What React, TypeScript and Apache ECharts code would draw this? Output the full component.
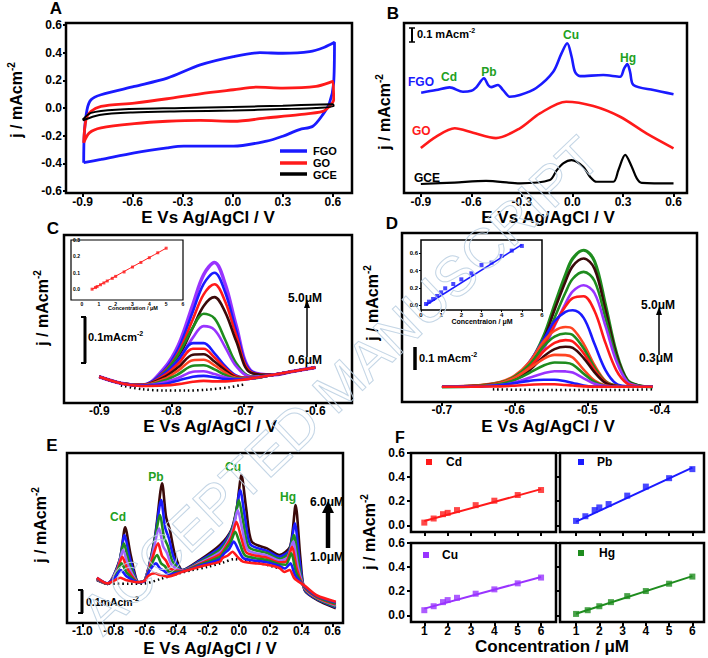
import React, { useEffect, useRef } from "react";
import * as echarts from "echarts";

const FONT = '"Liberation Sans", Arial, Helvetica, sans-serif';
const BLUE = "#1a1aff";
const RED = "#ff1a1a";
const GREEN = "#1e8c1e";
const PURPLE = "#9933ff";
const LILAC = "#a066ff";
const BROWN = "#3b0a0a";
const ORANGE = "#ff4422";
const LABEL_GREEN = "#22a022";

// ---------- tick label values ----------
const cvXTicks = [-0.9, -0.6, -0.3, 0, 0.3, 0.6];
const cvYTicks = [-0.6, -0.4, -0.2, 0, 0.2, 0.4, 0.6];
const cTicks = [-0.9, -0.8, -0.7, -0.6];
const dTicks = [-0.7, -0.6, -0.5, -0.4];
const eTicks = [-1.0, -0.8, -0.6, -0.4, -0.2, 0, 0.2, 0.4, 0.6];
const fXTicks = [1, 2, 3, 4, 5, 6];
const fYTicks = [0, 0.2, 0.4, 0.6];
const insetXTicks = [0, 1, 2, 3, 4, 5, 6];
const ciYTicks = [0, 0.1, 0.2, 0.3];
const diYTicks = [0, 0.2, 0.4, 0.6];

// ---------- Panel A: CV loops [E (V), j (mA cm-2)] ----------
const cvFGO = [
  [-0.894, -0.396], [-0.89, -0.18], [-0.874, -0.012], [-0.85, 0.06], [-0.79, 0.096], [-0.59, 0.156],
  [-0.393, 0.216], [-0.195, 0.312], [0.004, 0.372], [0.163, 0.4], [0.3, 0.396], [0.461, 0.408],
  [0.55, 0.44], [0.61, 0.475], [0.605, 0.18], [0.58, 0.036], [0.54, -0.048], [0.48, -0.132],
  [0.4, -0.156], [0.3, -0.204], [0.203, -0.24], [0.004, -0.276], [-0.095, -0.276], [-0.294, -0.276],
  [-0.393, -0.288], [-0.59, -0.324], [-0.79, -0.372], [-0.894, -0.396],
];
const cvGO = [
  [-0.894, -0.252], [-0.88, -0.084], [-0.85, -0.024], [-0.79, 0.012], [-0.59, 0.036], [-0.393, 0.067],
  [-0.195, 0.103], [0.004, 0.132], [0.143, 0.151], [0.3, 0.144], [0.5, 0.156], [0.6, 0.192],
  [0.605, 0.06], [0.58, 0.012], [0.54, -0.024], [0.4, -0.048], [0.203, -0.072], [0.004, -0.096],
  [-0.195, -0.089], [-0.393, -0.096], [-0.59, -0.113], [-0.79, -0.144], [-0.86, -0.18], [-0.894, -0.252],
];
const cvGCE = [
  [-0.9, -0.085], [-0.85, -0.035], [-0.7, -0.012], [-0.3, 0.0], [0.0, 0.008], [0.3, 0.016], [0.6, 0.028],
  [0.605, 0.015], [0.5, 0.0], [0.3, -0.008], [0.0, -0.018], [-0.3, -0.024], [-0.6, -0.032], [-0.8, -0.05], [-0.9, -0.09],
];

// ---------- Panel B: stripping curves, offset (mA cm-2) ----------
const bFGO = [
  [-0.898, 0.767], [-0.809, 0.787], [-0.729, 0.808], [-0.65, 0.774], [-0.6, 0.782], [-0.571, 0.808],
  [-0.525, 0.877], [-0.501, 0.826], [-0.483, 0.81], [-0.442, 0.826], [-0.412, 0.787], [-0.372, 0.736],
  [-0.312, 0.749], [-0.215, 0.803], [-0.114, 0.927], [-0.065, 1.068], [-0.031, 1.145], [-0.005, 1.042],
  [0.015, 0.927], [0.045, 0.894], [0.183, 0.902], [0.283, 0.889], [0.307, 0.953], [0.326, 0.986],
  [0.342, 0.927], [0.362, 0.826], [0.481, 0.787], [0.6, 0.755],
];
const bGO = [
  [-0.9, 0.344], [-0.811, 0.43], [-0.699, 0.495], [-0.59, 0.461], [-0.454, 0.42], [-0.312, 0.495],
  [-0.193, 0.609], [-0.037, 0.698], [0.124, 0.665], [0.283, 0.583], [0.439, 0.456], [0.6, 0.342],
];
const bGCE = [
  [-0.9, 0.069], [-0.7, 0.08], [-0.513, 0.092], [-0.312, 0.074], [-0.134, 0.099], [-0.095, 0.171],
  [-0.055, 0.227], [-0.005, 0.252], [0.064, 0.201], [0.104, 0.125], [0.143, 0.086], [0.243, 0.086],
  [0.273, 0.176], [0.313, 0.291], [0.352, 0.201], [0.382, 0.112], [0.411, 0.078], [0.6, 0.074],
];

// ---------- Panel C: Cd DPASV, 0.6-5.0 uM ----------
const cX = [-0.9, -0.87, -0.84, -0.81, -0.79, -0.77, -0.755, -0.74, -0.725, -0.71, -0.69, -0.66, -0.63, -0.6];
const cScans = [
  [0.057, 0.043, 0.038, 0.075, 0.126, 0.214, 0.279, 0.305, 0.258, 0.169, 0.071, 0.061, 0.069, 0.077],
  [0.057, 0.043, 0.038, 0.071, 0.118, 0.199, 0.259, 0.283, 0.24, 0.159, 0.07, 0.061, 0.069, 0.077],
  [0.057, 0.043, 0.038, 0.068, 0.11, 0.182, 0.236, 0.258, 0.22, 0.148, 0.068, 0.061, 0.069, 0.077],
  [0.057, 0.043, 0.038, 0.063, 0.1, 0.164, 0.211, 0.23, 0.197, 0.135, 0.066, 0.061, 0.069, 0.077],
  [0.057, 0.043, 0.039, 0.066, 0.106, 0.164, 0.194, 0.184, 0.137, 0.087, 0.058, 0.061, 0.069, 0.077],
  [0.057, 0.043, 0.038, 0.061, 0.094, 0.142, 0.167, 0.159, 0.121, 0.08, 0.057, 0.061, 0.069, 0.077],
  [0.057, 0.043, 0.04, 0.064, 0.094, 0.13, 0.13, 0.108, 0.08, 0.06, 0.054, 0.061, 0.069, 0.077],
  [0.057, 0.043, 0.039, 0.06, 0.086, 0.118, 0.118, 0.099, 0.076, 0.058, 0.054, 0.061, 0.069, 0.077],
  [0.057, 0.043, 0.039, 0.056, 0.078, 0.105, 0.106, 0.09, 0.071, 0.056, 0.054, 0.061, 0.069, 0.077],
  [0.057, 0.043, 0.039, 0.052, 0.071, 0.093, 0.094, 0.082, 0.066, 0.055, 0.054, 0.061, 0.069, 0.077],
  [0.057, 0.043, 0.038, 0.049, 0.063, 0.081, 0.082, 0.073, 0.061, 0.053, 0.053, 0.061, 0.069, 0.077],
  [0.057, 0.043, 0.038, 0.045, 0.055, 0.068, 0.069, 0.063, 0.056, 0.052, 0.053, 0.061, 0.069, 0.077],
  [0.057, 0.043, 0.038, 0.041, 0.049, 0.057, 0.059, 0.056, 0.052, 0.051, 0.053, 0.061, 0.069, 0.077],
  [0.057, 0.043, 0.037, 0.038, 0.041, 0.046, 0.048, 0.047, 0.047, 0.049, 0.053, 0.061, 0.069, 0.077],
];
const cColors = [PURPLE, BLUE, RED, BROWN, GREEN, PURPLE, BLUE, RED, BROWN, ORANGE, GREEN, PURPLE, BLUE, RED];
const cBlank = [[-0.87, 0.038], [-0.84, 0.03], [-0.81, 0.027], [-0.78, 0.027], [-0.75, 0.029], [-0.72, 0.034], [-0.7, 0.04]];
const ciX = [0.6, 0.8, 0.9, 1.1, 1.3, 1.5, 1.8, 2.0, 2.5, 3.0, 3.5, 4.0, 4.5, 5.0];
const ciY = [0.0, 0.01, 0.016, 0.027, 0.038, 0.05, 0.066, 0.078, 0.105, 0.135, 0.163, 0.192, 0.222, 0.25];
const ciFit = [[0.6, 0.0], [5.0, 0.25]];

// ---------- Panel D: Pb DPASV, 0.3-5.0 uM ----------
const dX = [-0.7, -0.65, -0.62, -0.6, -0.58, -0.56, -0.545, -0.53, -0.52, -0.505, -0.49, -0.475, -0.46, -0.445, -0.43, -0.41];
const dScans = [
  [0.066, 0.07, 0.084, 0.105, 0.164, 0.286, 0.422, 0.553, 0.624, 0.66, 0.612, 0.422, 0.215, 0.096, 0.072, 0.066],
  [0.066, 0.069, 0.083, 0.102, 0.158, 0.272, 0.401, 0.524, 0.591, 0.624, 0.579, 0.401, 0.206, 0.094, 0.072, 0.066],
  [0.066, 0.069, 0.081, 0.099, 0.149, 0.251, 0.366, 0.476, 0.536, 0.566, 0.526, 0.366, 0.191, 0.091, 0.071, 0.066],
  [0.066, 0.069, 0.079, 0.095, 0.139, 0.23, 0.331, 0.428, 0.481, 0.508, 0.473, 0.331, 0.177, 0.088, 0.07, 0.066],
  [0.066, 0.069, 0.08, 0.098, 0.142, 0.245, 0.337, 0.416, 0.452, 0.46, 0.396, 0.257, 0.138, 0.08, 0.068, 0.066],
  [0.066, 0.071, 0.084, 0.109, 0.173, 0.272, 0.352, 0.392, 0.399, 0.366, 0.252, 0.139, 0.079, 0.068, 0.066, 0.066],
  [0.067, 0.073, 0.087, 0.115, 0.173, 0.264, 0.31, 0.326, 0.318, 0.253, 0.16, 0.092, 0.071, 0.067, 0.066, 0.066],
  [0.066, 0.072, 0.085, 0.11, 0.161, 0.242, 0.284, 0.298, 0.291, 0.233, 0.15, 0.089, 0.071, 0.067, 0.066, 0.066],
  [0.066, 0.071, 0.082, 0.105, 0.149, 0.22, 0.257, 0.269, 0.263, 0.212, 0.139, 0.086, 0.07, 0.067, 0.066, 0.066],
  [0.066, 0.07, 0.08, 0.099, 0.137, 0.198, 0.23, 0.24, 0.235, 0.191, 0.129, 0.083, 0.069, 0.067, 0.066, 0.066],
  [0.066, 0.07, 0.082, 0.106, 0.146, 0.188, 0.205, 0.204, 0.194, 0.141, 0.093, 0.072, 0.067, 0.066, 0.066, 0.066],
  [0.066, 0.069, 0.078, 0.096, 0.126, 0.159, 0.172, 0.171, 0.163, 0.123, 0.087, 0.07, 0.067, 0.066, 0.066, 0.066],
  [0.066, 0.068, 0.074, 0.085, 0.105, 0.125, 0.134, 0.133, 0.128, 0.103, 0.079, 0.069, 0.066, 0.066, 0.066, 0.066],
  [0.066, 0.068, 0.073, 0.082, 0.092, 0.097, 0.097, 0.09, 0.083, 0.072, 0.067, 0.066, 0.066, 0.066, 0.066, 0.066],
  [0.066, 0.067, 0.068, 0.071, 0.075, 0.077, 0.077, 0.074, 0.072, 0.068, 0.066, 0.066, 0.066, 0.066, 0.066, 0.066],
];
const dColors = [GREEN, BROWN, GREEN, PURPLE, RED, BLUE, ORANGE, GREEN, RED, BROWN, ORANGE, GREEN, PURPLE, BLUE, RED];
const dBlank = [[-0.63, 0.055], [-0.55, 0.052], [-0.47, 0.052], [-0.41, 0.055]];
const diX = [0.25, 0.4, 0.6, 0.8, 1.0, 1.2, 1.6, 2.0, 2.5, 3.0, 3.5, 4.0, 4.5, 5.0];
const diY = [0.012, 0.039, 0.07, 0.105, 0.147, 0.194, 0.244, 0.298, 0.368, 0.465, 0.492, 0.57, 0.632, 0.686];
const diFit = [[0.25, 0.0], [5.0, 0.7]];

// ---------- Panel E: simultaneous Cd/Pb/Cu/Hg, 1.0-6.0 uM ----------
const e1 = [[-0.907, 0.195], [-0.84, 0.178], [-0.761, 0.288], [-0.726, 0.435], [-0.691, 0.309], [-0.64, 0.185], [-0.6, 0.195], [-0.535, 0.396], [-0.49, 0.635], [-0.465, 0.483], [-0.44, 0.422], [-0.41, 0.317], [-0.36, 0.241], [-0.25, 0.286], [-0.12, 0.355], [-0.048, 0.423], [-0.013, 0.523], [0.017, 0.673], [0.047, 0.522], [0.082, 0.37], [0.18, 0.339], [0.26, 0.309], [0.328, 0.347], [0.363, 0.536], [0.393, 0.3], [0.42, 0.15], [0.5, 0.105], [0.62, 0.067]];
const e2 = [[-0.907, 0.197], [-0.84, 0.178], [-0.765, 0.274], [-0.73, 0.4], [-0.695, 0.291], [-0.64, 0.185], [-0.6, 0.195], [-0.541, 0.362], [-0.496, 0.559], [-0.471, 0.434], [-0.446, 0.384], [-0.416, 0.298], [-0.36, 0.24], [-0.25, 0.282], [-0.12, 0.344], [-0.056, 0.405], [-0.021, 0.485], [0.009, 0.605], [0.039, 0.481], [0.074, 0.357], [0.18, 0.328], [0.26, 0.301], [0.323, 0.331], [0.358, 0.453], [0.388, 0.286], [0.42, 0.153], [0.5, 0.108], [0.62, 0.071]];
const e3 = [[-0.907, 0.198], [-0.84, 0.178], [-0.77, 0.258], [-0.735, 0.362], [-0.7, 0.273], [-0.64, 0.185], [-0.6, 0.194], [-0.548, 0.332], [-0.503, 0.491], [-0.478, 0.39], [-0.453, 0.349], [-0.423, 0.279], [-0.36, 0.239], [-0.25, 0.277], [-0.12, 0.333], [-0.065, 0.386], [-0.03, 0.455], [0.0, 0.559], [0.03, 0.452], [0.065, 0.344], [0.18, 0.318], [0.26, 0.292], [0.317, 0.314], [0.352, 0.4], [0.382, 0.272], [0.42, 0.156], [0.5, 0.111], [0.62, 0.075]];
const e4 = [[-0.907, 0.2], [-0.84, 0.179], [-0.775, 0.246], [-0.74, 0.332], [-0.705, 0.258], [-0.64, 0.185], [-0.6, 0.194], [-0.554, 0.305], [-0.509, 0.43], [-0.484, 0.35], [-0.459, 0.318], [-0.429, 0.264], [-0.36, 0.238], [-0.25, 0.273], [-0.12, 0.322], [-0.072, 0.368], [-0.037, 0.426], [-0.007, 0.514], [0.023, 0.423], [0.058, 0.331], [0.18, 0.307], [0.26, 0.284], [0.312, 0.298], [0.347, 0.37], [0.377, 0.258], [0.42, 0.159], [0.5, 0.114], [0.62, 0.08]];
const e5 = [[-0.907, 0.201], [-0.84, 0.179], [-0.78, 0.233], [-0.745, 0.301], [-0.71, 0.243], [-0.64, 0.185], [-0.6, 0.193], [-0.561, 0.275], [-0.516, 0.362], [-0.491, 0.306], [-0.466, 0.284], [-0.436, 0.246], [-0.36, 0.236], [-0.25, 0.269], [-0.12, 0.312], [-0.08, 0.35], [-0.045, 0.394], [-0.015, 0.46], [0.015, 0.39], [0.05, 0.319], [0.18, 0.297], [0.26, 0.276], [0.306, 0.281], [0.341, 0.347], [0.371, 0.245], [0.42, 0.161], [0.5, 0.116], [0.62, 0.084]];
const e6 = [[-0.907, 0.203], [-0.84, 0.179], [-0.785, 0.221], [-0.75, 0.271], [-0.715, 0.228], [-0.64, 0.185], [-0.6, 0.193], [-0.567, 0.251], [-0.522, 0.309], [-0.497, 0.272], [-0.472, 0.258], [-0.442, 0.232], [-0.36, 0.235], [-0.25, 0.265], [-0.12, 0.301], [-0.088, 0.332], [-0.053, 0.365], [-0.023, 0.415], [0.007, 0.361], [0.042, 0.306], [0.18, 0.286], [0.26, 0.267], [0.301, 0.265], [0.336, 0.317], [0.366, 0.231], [0.42, 0.164], [0.5, 0.119], [0.62, 0.088]];
const e7 = [[-0.907, 0.205], [-0.84, 0.18], [-0.789, 0.209], [-0.754, 0.241], [-0.719, 0.213], [-0.64, 0.185], [-0.6, 0.192], [-0.574, 0.234], [-0.529, 0.271], [-0.504, 0.248], [-0.479, 0.238], [-0.449, 0.222], [-0.36, 0.234], [-0.25, 0.26], [-0.12, 0.29], [-0.097, 0.313], [-0.062, 0.336], [-0.032, 0.37], [-0.002, 0.332], [0.033, 0.293], [0.18, 0.276], [0.26, 0.259], [0.295, 0.248], [0.33, 0.271], [0.36, 0.217], [0.42, 0.167], [0.5, 0.122], [0.62, 0.093]];
const e8 = [[-0.907, 0.206], [-0.84, 0.18], [-0.793, 0.194], [-0.758, 0.206], [-0.723, 0.196], [-0.64, 0.185], [-0.6, 0.192], [-0.58, 0.214], [-0.535, 0.226], [-0.51, 0.219], [-0.485, 0.216], [-0.455, 0.211], [-0.36, 0.233], [-0.25, 0.256], [-0.12, 0.279], [-0.105, 0.295], [-0.07, 0.307], [-0.04, 0.324], [-0.01, 0.302], [0.025, 0.28], [0.18, 0.265], [0.26, 0.25], [0.29, 0.232], [0.325, 0.241], [0.355, 0.203], [0.42, 0.17], [0.5, 0.125], [0.62, 0.097]];
const eScans = [e1, e2, e3, e4, e5, e6, e7, e8];
const eColors = [BROWN, BLUE, GREEN, LILAC, RED, GREEN, BLUE, RED];
const eBlank = [[-0.86, 0.178], [-0.7, 0.178], [-0.6, 0.18], [-0.5, 0.2], [-0.4, 0.222], [-0.3, 0.24], [-0.2, 0.255], [-0.1, 0.275], [-0.03, 0.29], [0.05, 0.282], [0.15, 0.27], [0.25, 0.25]];

// ---------- Panel F: calibration plots ----------
const fConc = [1, 1.4, 1.8, 2, 2.4, 3.2, 4, 5, 6];
const fCd = [0.022, 0.056, 0.092, 0.103, 0.126, 0.167, 0.204, 0.251, 0.293];
const fPb = [0.036, 0.075, 0.126, 0.148, 0.176, 0.246, 0.321, 0.391, 0.466];
const fCu = [0.042, 0.075, 0.109, 0.126, 0.145, 0.179, 0.215, 0.265, 0.313];
const fHgConc = [1, 1.5, 2, 2.5, 3.2, 4, 5, 6];
const fHg = [0.011, 0.042, 0.075, 0.109, 0.159, 0.201, 0.262, 0.321];
const fCdFit = [[1, 0.035], [6, 0.3]];
const fPbFit = [[1, 0.03], [6, 0.478]];
const fCuFit = [[1, 0.055], [6, 0.318]];
const fHgFit = [[1, 0.012], [6, 0.325]];

// ---------- helpers ----------
const fmt1 = (v: number) => v.toFixed(1);
const fmt0 = (v: number) => String(Math.round(v));

function axis(gridIndex: number, min: number, max: number, o: any = {}) {
  const { ticks, labels, fmt = fmt1, size = 12, margin = 3, tickLen = 4, tickWidth = 2 } = o;
  return {
    type: "value",
    gridIndex,
    min,
    max,
    splitLine: { show: false },
    axisLine: { show: false, onZero: false },
    axisTick: ticks
      ? { show: true, customValues: ticks, length: tickLen, inside: false, lineStyle: { color: "#000", width: tickWidth } }
      : { show: false },
    axisLabel: labels
      ? { show: true, customValues: labels, formatter: fmt, fontSize: size, fontWeight: "bold", fontFamily: FONT, color: "#000", margin }
      : { show: false },
  };
}

function box(left: number, top: number, width: number, height: number, bw = 2.5) {
  return { left, top, width, height, show: true, borderColor: "#000", borderWidth: bw, backgroundColor: "transparent" };
}

function line(idx: number, data: any[], color: string, width = 2.5, extra: any = {}) {
  return {
    type: "line",
    xAxisIndex: idx,
    yAxisIndex: idx,
    data,
    symbol: "none",
    showSymbol: false,
    smooth: 0.3,
    silent: true,
    lineStyle: { color, width },
    ...extra,
  };
}

function scatter(idx: number, xs: number[], ys: number[], color: string, size = 6) {
  return {
    type: "scatter",
    xAxisIndex: idx,
    yAxisIndex: idx,
    data: xs.map((x, i) => [x, ys[i]]),
    symbol: "rect",
    symbolSize: size,
    silent: true,
    itemStyle: { color },
  };
}

function txt(x: number, y: number, text: string, o: any = {}) {
  const { size = 12, color = "#000", align = "center", weight = "bold", rotation = 0 } = o;
  return {
    type: "text",
    x,
    y,
    rotation,
    z: 100,
    silent: true,
    style: {
      text,
      font: `${weight} ${size}px ${FONT}`,
      fill: color,
      align,
      textAlign: align,
      verticalAlign: "middle",
      textVerticalAlign: "middle",
    },
  };
}

function sup(x: number, y: number, main: string, s: string, o: any = {}) {
  const { size = 12, color = "#000", align = "left", rotation = 0 } = o;
  const small = Math.round(size * 0.62);
  return {
    type: "text",
    x,
    y,
    rotation,
    z: 100,
    silent: true,
    style: {
      text: `{a|${main}}{b|${s}}`,
      align,
      textAlign: align,
      verticalAlign: "middle",
      textVerticalAlign: "middle",
      rich: {
        a: { fontSize: size, fontWeight: "bold", fontFamily: FONT, fill: color, color, lineHeight: size + 4 },
        b: { fontSize: small, fontWeight: "bold", fontFamily: FONT, fill: color, color, lineHeight: small, verticalAlign: "top" },
      },
    },
  };
}

function seg(x1: number, y1: number, x2: number, y2: number, width = 2, color = "#000") {
  return { type: "line", z: 100, silent: true, shape: { x1, y1, x2, y2 }, style: { stroke: color, lineWidth: width } };
}

function head(points: number[][]) {
  return { type: "polygon", z: 100, silent: true, shape: { points }, style: { fill: "#000" } };
}

function buildOption() {
  const grid = [
    box(66, 23, 286, 170), // 0 A
    box(404, 23, 283, 170), // 1 B
    box(64, 235, 288, 168), // 2 C
    { left: 82, top: 240, width: 101, height: 60, show: false }, // 3 C inset
    box(402, 233, 295, 169), // 4 D
    box(421, 240, 121, 70, 1.5), // 5 D inset
    box(67, 453, 276, 170), // 6 E
    box(411, 453, 145, 79), // 7 F Cd
    box(560, 453, 144, 79), // 8 F Pb
    box(411, 543, 145, 79), // 9 F Cu
    box(560, 543, 144, 79), // 10 F Hg
  ];
  const xAxis = [
    axis(0, -1.0, 0.715, { ticks: cvXTicks, labels: cvXTicks }),
    axis(1, -1.0, 0.68, { ticks: cvXTicks, labels: cvXTicks }),
    axis(2, -0.949, -0.549, { ticks: cTicks, labels: cTicks, margin: 2 }),
    axis(3, 0, 6, { labels: insetXTicks, fmt: fmt0, size: 5, margin: 1 }),
    axis(4, -0.755, -0.349, { ticks: dTicks, labels: dTicks, margin: 2 }),
    axis(5, 0, 6, { ticks: insetXTicks, labels: insetXTicks, fmt: fmt0, size: 6, margin: 2, tickLen: 2, tickWidth: 1 }),
    axis(6, -1.098, 0.666, { ticks: eTicks, labels: eTicks, margin: 2 }),
    axis(7, 0.43, 6.64, { ticks: fXTicks }),
    axis(8, 0.31, 6.5, { ticks: fXTicks }),
    axis(9, 0.43, 6.64, { ticks: fXTicks, labels: fXTicks, fmt: fmt0 }),
    axis(10, 0.31, 6.5, { ticks: fXTicks, labels: fXTicks, fmt: fmt0 }),
  ];
  const yAxis = [
    axis(0, -0.615, 0.615, { ticks: cvYTicks, labels: cvYTicks, tickLen: 3, margin: 4 }),
    axis(1, 0, 1.3),
    axis(2, 0, 0.365),
    axis(3, -0.066, 0.3, { labels: ciYTicks, size: 5, margin: 2 }),
    axis(4, 0, 0.735),
    axis(5, -0.058, 0.755, { ticks: diYTicks, labels: diYTicks, size: 6, margin: 3, tickLen: 2, tickWidth: 1 }),
    axis(6, 0, 0.773),
    axis(7, -0.056, 0.6, { ticks: fYTicks, labels: fYTicks, margin: 6 }),
    axis(8, -0.056, 0.6, { ticks: fYTicks }),
    axis(9, -0.056, 0.6, { ticks: fYTicks, labels: fYTicks, margin: 6 }),
    axis(10, -0.056, 0.6, { ticks: fYTicks }),
  ];

  const dotted = { lineStyle: { color: "#000", width: 2.5, type: [1.5, 3] }, smooth: 0.3 };
  const series: any[] = [
    line(0, cvFGO, BLUE, 2.8),
    line(0, cvGO, RED, 2.8),
    line(0, cvGCE, "#000", 2),
    line(1, bFGO, BLUE, 2.6),
    line(1, bGO, RED, 2.6),
    line(1, bGCE, "#000", 2.2),
    line(2, cBlank, "#000", 2.5, dotted),
    ...cScans.map((s, k) => line(2, cX.map((x, i) => [x, s[i]]), cColors[k], k === 0 ? 3.5 : 2.6, { smooth: 0.35 })),
    line(3, ciFit, RED, 1),
    scatter(3, ciX, ciY, RED, 3),
    line(4, dBlank, "#000", 2.5, dotted),
    ...dScans.map((s, k) => line(4, dX.map((x, i) => [x, s[i]]), dColors[k], k === 0 ? 3.2 : 2.6, { smooth: 0.35 })),
    line(5, diFit, BLUE, 1.5),
    scatter(5, diX, diY, BLUE, 4),
    line(6, eBlank, "#000", 2.5, dotted),
    ...eScans.map((s, k) => line(6, s, eColors[k], 2.6, { smooth: 0.25 })),
    line(7, fCdFit, RED, 2),
    scatter(7, fConc, fCd, RED),
    line(8, fPbFit, BLUE, 2),
    scatter(8, fConc, fPb, BLUE),
    line(9, fCuFit, PURPLE, 2),
    scatter(9, fConc, fCu, PURPLE),
    line(10, fHgFit, GREEN, 2),
    scatter(10, fHgConc, fHg, GREEN),
  ];

  const rot = Math.PI / 2;
  const graphic: any[] = [
    // panel letters
    txt(56, 8, "A", { size: 17 }),
    txt(393, 13, "B", { size: 17 }),
    txt(53, 228, "C", { size: 17 }),
    txt(392, 223, "D", { size: 17 }),
    txt(52, 445, "E", { size: 17 }),
    txt(400, 437, "F", { size: 16 }),
    // x titles
    txt(208, 217, "E Vs Ag/AgCl / V", { size: 17 }),
    txt(548, 217, "E Vs Ag/AgCl / V", { size: 17 }),
    txt(210, 426, "E Vs Ag/AgCl / V", { size: 17 }),
    txt(548, 426, "E Vs Ag/AgCl / V", { size: 17 }),
    txt(210, 648, "E Vs Ag/AgCl / V", { size: 17 }),
    txt(552, 646, "Concentration / μM", { size: 17 }),
    // y titles
    sup(16, 100, "j / mAcm", "-2", { size: 16, align: "center", rotation: rot }),
    sup(384, 112, "j / mAcm", "-2", { size: 16, align: "center", rotation: rot }),
    sup(42, 308, "j / mAcm", "-2", { size: 16, align: "center", rotation: rot }),
    sup(372, 303, "j / mAcm", "-2", { size: 16, align: "center", rotation: rot }),
    sup(40, 525, "j / mAcm", "-2", { size: 16, align: "center", rotation: rot }),
    sup(369, 532, "j / mAcm", "-2", { size: 16, align: "center", rotation: rot }),
    // A legend
    seg(280, 151, 307, 151, 3.5, BLUE),
    seg(280, 163, 307, 163, 3.5, RED),
    seg(280, 174, 307, 174, 3.5, "#000"),
    txt(313, 151, "FGO", { align: "left", size: 11 }),
    txt(313, 163, "GO", { align: "left", size: 11 }),
    txt(313, 175, "GCE", { align: "left", size: 11 }),
    // B annotations
    seg(412, 28, 412, 42, 2),
    seg(409, 28, 415, 28, 1.5),
    seg(409, 42, 415, 42, 1.5),
    sup(417, 34, "0.1 mAcm", "-2", { size: 11 }),
    txt(408, 82, "FGO", { align: "left", color: BLUE }),
    txt(412, 131, "GO", { align: "left", color: RED }),
    txt(414, 178, "GCE", { align: "left" }),
    txt(449, 77, "Cd", { color: LABEL_GREEN }),
    txt(489, 72, "Pb", { color: LABEL_GREEN }),
    txt(571, 35, "Cu", { color: LABEL_GREEN }),
    txt(628, 58, "Hg", { color: LABEL_GREEN }),
    // C annotations
    seg(85, 317, 85, 363, 3),
    seg(81, 317, 86, 317, 2),
    seg(81, 363, 86, 363, 2),
    sup(88, 337, "0.1mAcm", "-2", { size: 11 }),
    seg(307, 357, 307, 306, 1.5),
    head([[307, 300], [304, 308], [310, 308]]),
    txt(288, 298, "5.0μM", { align: "left" }),
    txt(288, 360, "0.6μM", { align: "left" }),
    { type: "rect", z: 100, silent: true, shape: { x: 71, y: 240, width: 112, height: 60 }, style: { fill: "transparent", stroke: "#000", lineWidth: 1.2 } },
    txt(133, 308, "Concentration / μM", { size: 5.5 }),
    // D annotations
    seg(415, 347, 415, 370, 3.5),
    sup(419, 358, "0.1 mAcm", "-2", { size: 11 }),
    seg(659, 355, 659, 314, 1.5),
    head([[659, 307], [656, 315], [662, 315]]),
    txt(641, 305, "5.0μM", { align: "left" }),
    txt(639, 358, "0.3μM", { align: "left" }),
    txt(482, 321, "Concentraion / μM", { size: 7 }),
    // E annotations
    seg(82, 590, 82, 613, 3),
    seg(78, 590, 83, 590, 2),
    seg(78, 613, 83, 613, 2),
    sup(86, 602, "0.1mAcm", "-2", { size: 10.5 }),
    seg(328, 548, 328, 512, 4.5),
    head([[328, 501], [322, 513], [334, 513]]),
    txt(310, 502, "6.0μM", { align: "left" }),
    txt(310, 557, "1.0μM", { align: "left" }),
    txt(118, 517, "Cd", { color: LABEL_GREEN }),
    txt(156, 477, "Pb", { color: LABEL_GREEN }),
    txt(233, 467, "Cu", { color: LABEL_GREEN }),
    txt(288, 497, "Hg", { color: LABEL_GREEN }),
    // F legends
    { type: "rect", z: 100, silent: true, shape: { x: 426, y: 459, width: 6, height: 6 }, style: { fill: RED } },
    txt(446, 462, "Cd", { align: "left" }),
    { type: "rect", z: 100, silent: true, shape: { x: 578, y: 459, width: 6, height: 6 }, style: { fill: BLUE } },
    txt(597, 462, "Pb", { align: "left" }),
    { type: "rect", z: 100, silent: true, shape: { x: 423, y: 552, width: 6, height: 6 }, style: { fill: PURPLE } },
    txt(442, 555, "Cu", { align: "left" }),
    { type: "rect", z: 100, silent: true, shape: { x: 578, y: 550, width: 6, height: 6 }, style: { fill: GREEN } },
    txt(599, 553, "Hg", { align: "left" }),
    // watermark
    {
      type: "text",
      x: 340,
      y: 385,
      rotation: 0.76,
      z: 120,
      silent: true,
      style: {
        text: "ACCEPTED MANUSCRIPT",
        font: `normal 56px ${FONT}`,
        fill: "rgba(255,255,255,0)",
        stroke: "#bcd0e2",
        lineWidth: 1,
        opacity: 0.9,
        align: "center",
        textAlign: "center",
        verticalAlign: "middle",
        textVerticalAlign: "middle",
      },
    },
  ];

  return { animation: false, backgroundColor: "#fff", grid, xAxis, yAxis, series, graphic };
}

export default function App() {
  const ref = useRef<HTMLDivElement>(null);
  useEffect(() => {
    if (!ref.current) return;
    const chart = echarts.init(ref.current, null, { renderer: "svg" });
    chart.setOption(buildOption() as any);
    return () => chart.dispose();
  }, []);
  return (
    <div
      ref={ref}
      style={{ position: "absolute", left: 0, top: 0, width: 708, height: 658, background: "#fff" }}
    />
  );
}
